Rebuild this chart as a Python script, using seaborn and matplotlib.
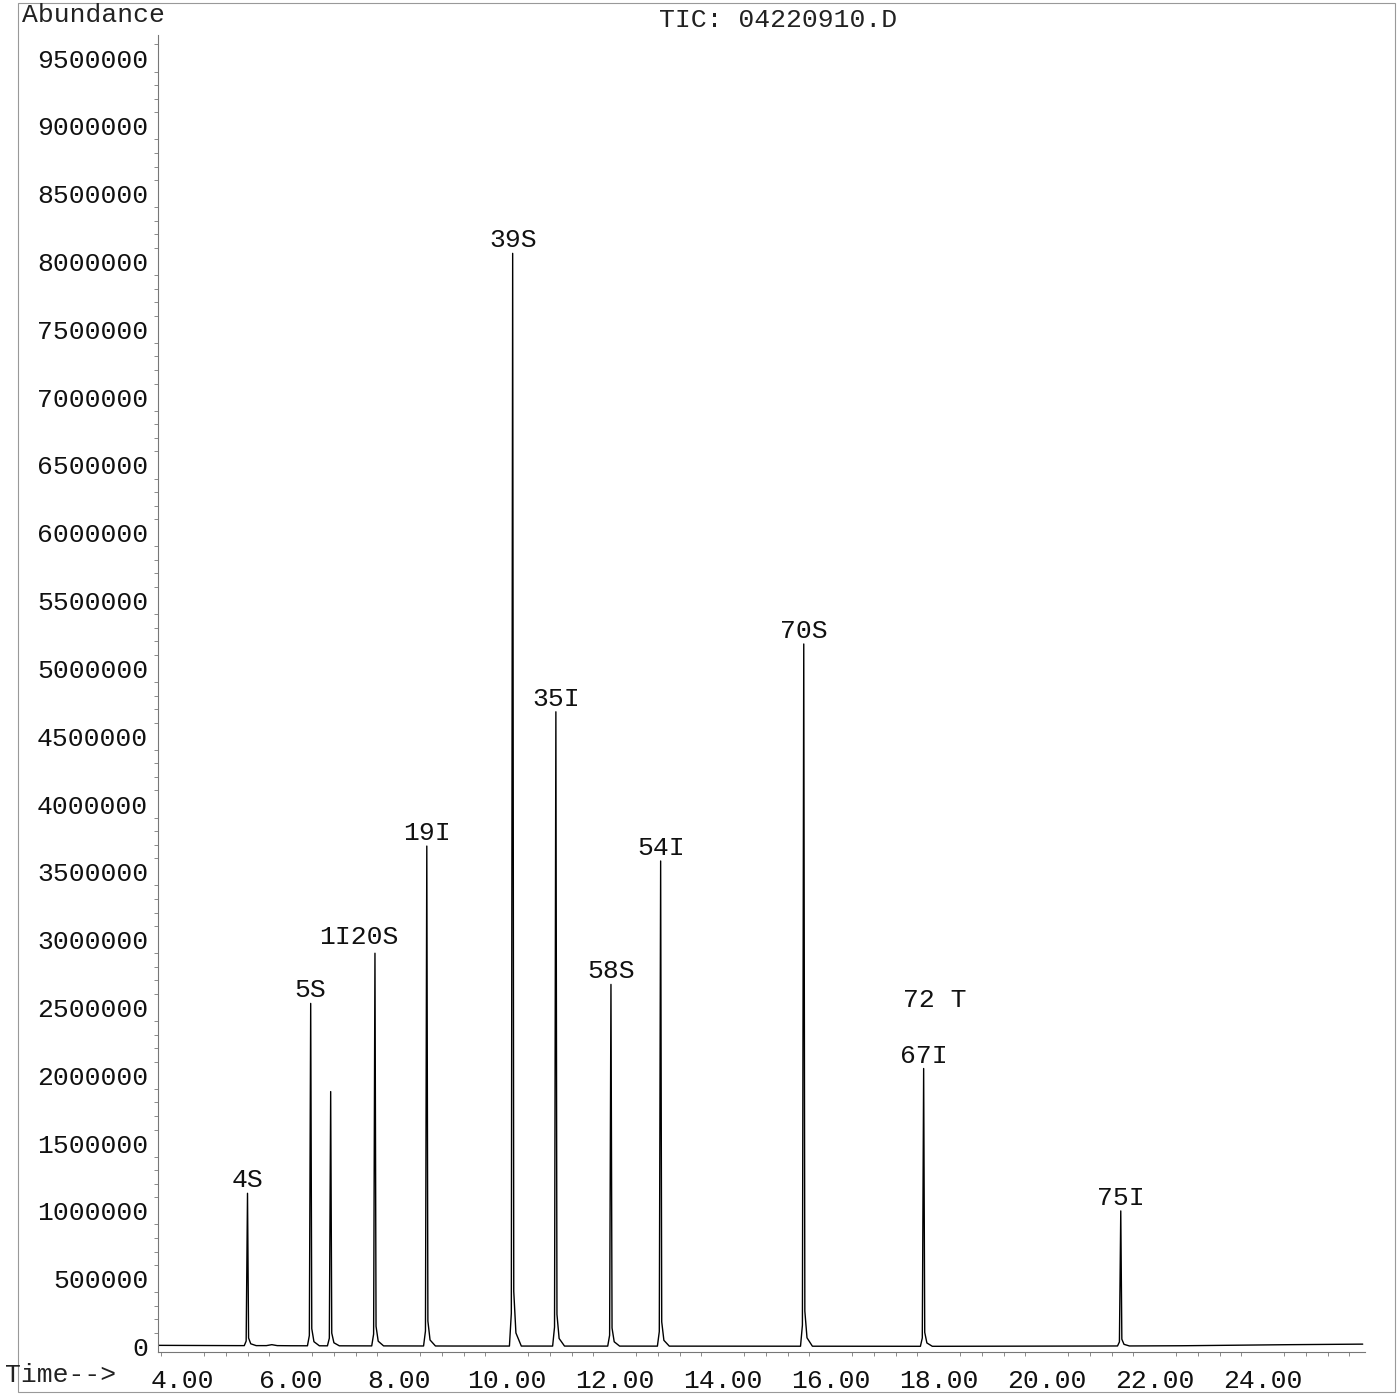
import matplotlib
matplotlib.use('Agg')

import matplotlib.pyplot as plt
import matplotlib.ticker as mticker
from matplotlib.patches import Rectangle
import seaborn as sns
import numpy as np
import pandas as pd

# peaks (retention time [min], abundance)
peak_times = [5.20, 6.37, 6.74, 7.56, 8.52, 10.11, 10.91, 11.93, 12.85, 15.50, 17.72, 21.37]
peak_heights = [1130000, 2530000, 1880000, 2900000, 3690000, 8060000, 4680000,
                2670000, 3580000, 5180000, 2050000, 1000000]
peak_labels = ['4S', '5S', '', '1I20S', '19I', '39S', '35I', '58S', '54I', '70S', '67I', '75I']

# baseline
base_times = [3.55, 5.00, 5.55, 5.65, 5.75, 6.00, 9.00, 14.00, 18.00, 21.00, 22.50, 23.50, 24.50, 25.85]
base_values = [9000, 7000, 7000, 14000, 7000, 6000, 4000, 3000, 2000, 4000, 6000, 10000, 14000, 18000]

title_text = 'TIC: 04220910.D'
x_ticks = [4, 6, 8, 10, 12, 14, 16, 18, 20, 22, 24]
y_ticks = list(range(0, 9500001, 500000))


def build_trace():
    # baseline points plus a narrow tailing spike for each peak
    rows = list(zip(base_times, base_values))
    shape = [(-0.06, 0.0), (-0.025, 0.03), (0.0, 1.0), (0.02, 0.05),
             (0.06, 0.012), (0.16, 0.0)]
    for t, h in zip(peak_times, peak_heights):
        b = np.interp(t, base_times, base_values)
        for dt, frac in shape:
            rows.append((t + dt, b + frac * (h - b)))
    df = pd.DataFrame(rows, columns=['time', 'abundance'])
    return df.sort_values('time').reset_index(drop=True)


sns.set_style('white')
plt.rcParams['font.family'] = ['Liberation Mono', 'DejaVu Sans Mono']

fig = plt.figure(figsize=(13.97, 13.99), dpi=100)
ax = fig.add_axes([0.113, 0.0336, 0.864, 0.9414])

trace = build_trace()
sns.lineplot(data=trace, x='time', y='abundance', sort=False, estimator=None,
             color='black', linewidth=1.0, ax=ax)

ax.set_xlim(3.54, 25.89)
ax.set_ylim(-40000, 9670000)

ax.set_xticks(x_ticks)
ax.set_xticklabels(['%.2f' % v for v in x_ticks])
ax.xaxis.set_minor_locator(mticker.MultipleLocator(0.4))
ax.set_yticks(y_ticks)
ax.set_yticklabels([str(v) for v in y_ticks])
ax.yaxis.set_minor_locator(mticker.MultipleLocator(100000))

ax.tick_params(axis='both', which='major', direction='out', length=6, width=0.8,
               color='#555555', labelsize=19, labelcolor='#111111')
ax.tick_params(axis='x', which='major', pad=6)
ax.tick_params(axis='y', which='major', pad=1)
ax.tick_params(axis='both', which='minor', direction='out', length=3, width=0.6,
               color='#777777', bottom=True, left=True)
ax.set_xlabel('')
ax.set_ylabel('')

for side in ['top', 'right']:
    ax.spines[side].set_visible(False)
for side in ['left', 'bottom']:
    ax.spines[side].set_color('#777777')
    ax.spines[side].set_linewidth(0.8)

# peak labels
for t, h, lab in zip(peak_times, peak_heights, peak_labels):
    if not lab:
        continue
    dx, dy = 0, 6
    if lab == '1I20S':
        dx, dy = -16, 9
    ax.annotate(lab, (t, h), xytext=(dx, dy), textcoords='offset pixels',
                ha='center', va='baseline', fontsize=19, color='#111111')

# extra label stacked above 67I
ax.annotate('72 T', (peak_times[10], peak_heights[10]), xytext=(11, 62),
            textcoords='offset pixels', ha='center', va='baseline',
            fontsize=19, color='#111111')

fig.text(778 / 1397, 1 - 20 / 1399, title_text, ha='center', va='center',
         fontsize=19, color='#222222')
fig.text(22 / 1397, 1 - 15 / 1399, 'Abundance', ha='left', va='center',
         fontsize=19, color='#222222')
fig.text(5 / 1397, 1 - 1375 / 1399, 'Time-->', ha='left', va='center',
         fontsize=19, color='#222222')

# printed frame around the page
fig.patches.append(Rectangle((18 / 1397, 1 - 1392 / 1399), (1395 - 18) / 1397,
                             (1392 - 3) / 1399, transform=fig.transFigure,
                             fill=False, edgecolor='#999999', linewidth=0.8))

fig.savefig('out.png', dpi=100)
